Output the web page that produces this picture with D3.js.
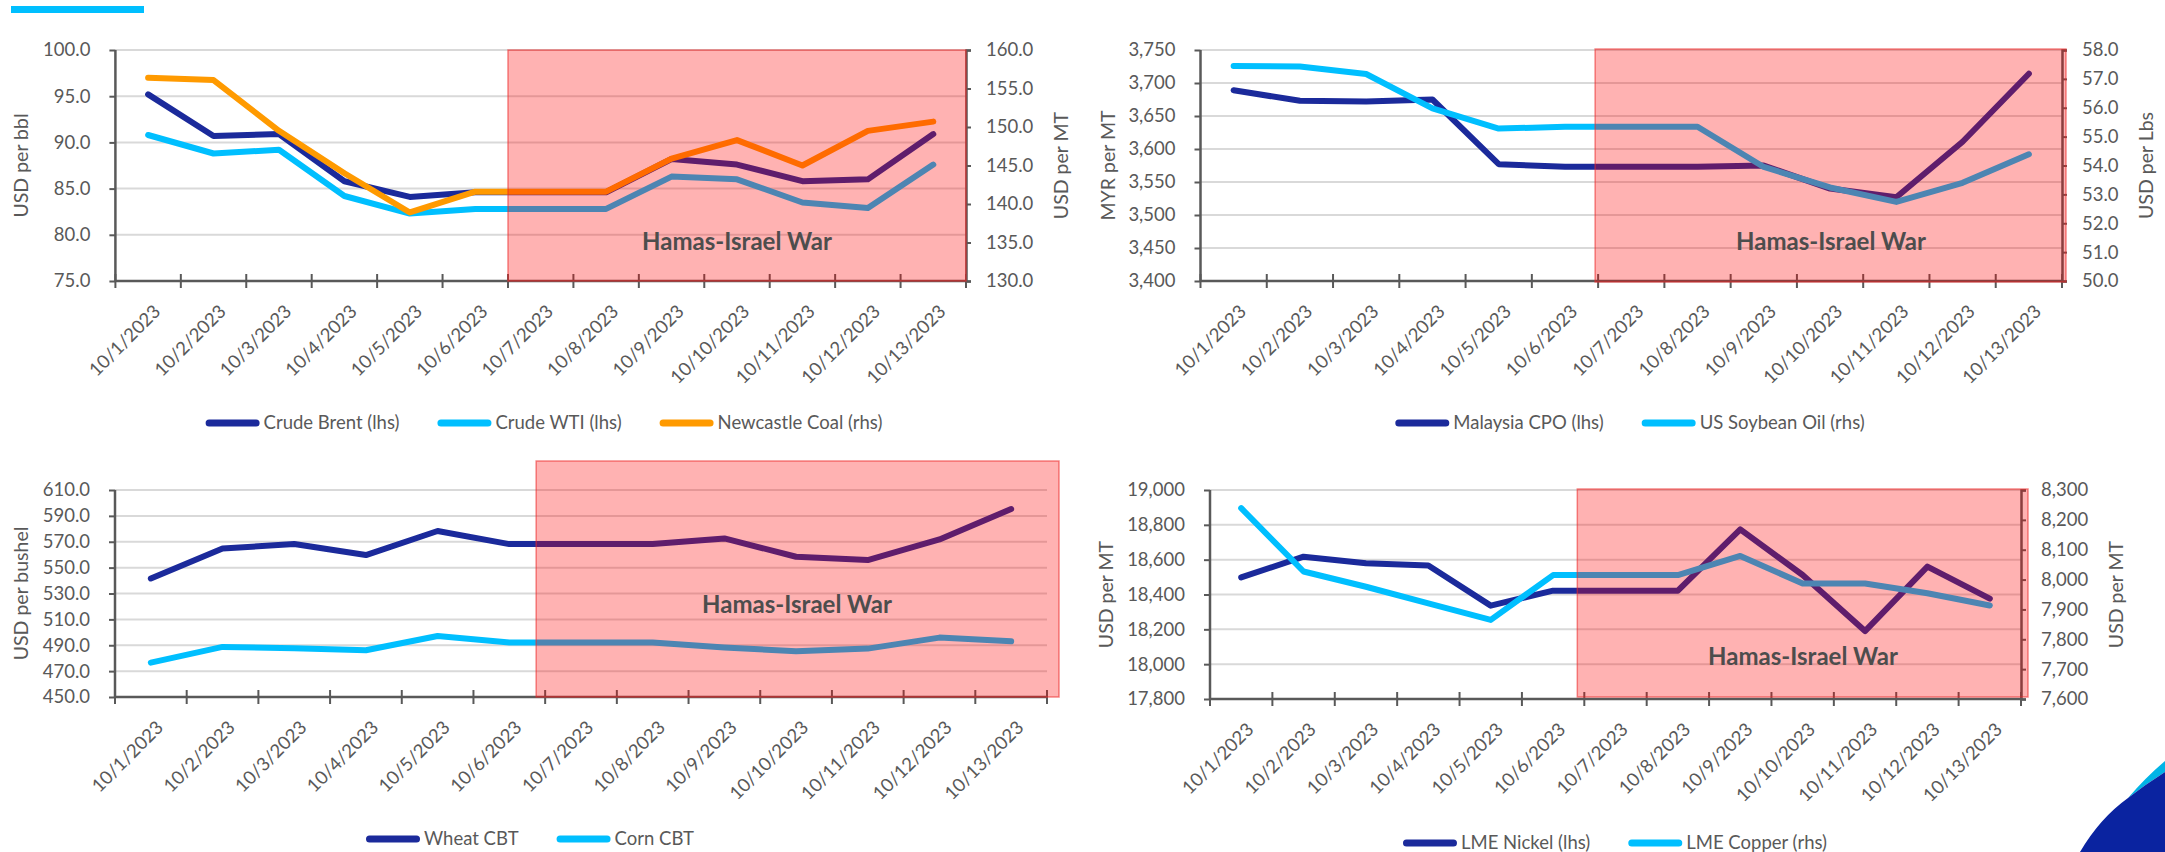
<!DOCTYPE html>
<html>
<head>
<meta charset="utf-8">
<script src="https://cdn.jsdelivr.net/npm/d3@7"></script>
<style>
  html, body { margin: 0; padding: 0; background: #fff; }
  svg { display: block; }
</style>
</head>
<body>
<svg id="board" width="2165" height="852"></svg>
<script>
// Commodity prices around the Hamas-Israel war, 1-13 Oct 2023

const dates = ["10/1/2023", "10/2/2023", "10/3/2023", "10/4/2023", "10/5/2023", "10/6/2023", "10/7/2023",
  "10/8/2023", "10/9/2023", "10/10/2023", "10/11/2023", "10/12/2023", "10/13/2023"];
const warStart = "10/7/2023";
const warLabel = "Hamas-Israel War";

const crudeBrent = [95.2, 90.7, 90.9, 85.8, 84.1, 84.6, 84.6, 84.6, 88.2, 87.6, 85.8, 86.0, 90.9];
const crudeWTI = [90.8, 88.8, 89.2, 84.2, 82.3, 82.8, 82.8, 82.8, 86.3, 86.0, 83.5, 82.9, 87.6];
const newcastleCoal = [156.4, 156.1, 149.5, 144.0, 138.9, 141.6, 141.6, 141.6, 145.9, 148.3, 145.0, 149.5, 150.7];

const malaysiaCPO = [3689, 3673, 3672, 3675, 3577, 3573, 3573, 3573, 3575, 3540, 3527, 3611, 3714];
const usSoybeanOil = [57.45, 57.43, 57.17, 55.98, 55.28, 55.34, 55.34, 55.34, 53.95, 53.24, 52.74, 53.40, 54.39];

const wheatCBT = [541.6, 564.8, 568.2, 559.7, 578.3, 568.2, 568.2, 568.2, 572.6, 558.4, 555.8, 571.8, 595.3];
const cornCBT = [476.6, 488.7, 487.7, 486.1, 497.2, 492.1, 492.1, 492.1, 488.2, 485.4, 487.4, 495.9, 493.1];

const lmeNickel = [18498, 18617, 18579, 18566, 18336, 18422, 18422, 18422, 18774, 18512, 18190, 18560, 18376];
const lmeCopper = [8239, 8027, 7976, 7920, 7865, 8015, 8015, 8015, 8079, 7987, 7987, 7954, 7913];

const NAVY = "#1B2A9B";
const CYAN = "#00BFFF";
const ORANGE = "#FF9A00";
const GREY = "#595959";
const FONT = "Lato, 'Open Sans', sans-serif";

const svg = d3.select("#board");

// header accent bar
svg.append("rect").attr("x", 11).attr("y", 6).attr("width", 133).attr("height", 7).attr("fill", CYAN);

const charts = [
  {
    box: { x0: 115.4, x1: 966, top: 50, bottom: 281 },
    left: { domain: [75, 100], step: 5, fmt: ".1f", title: "USD per bbl", titleX: 21 },
    right: { domain: [130, 160], step: 5, fmt: ".1f", title: "USD per MT", titleX: 1061 },
    series: [
      { name: "Crude Brent (lhs)", values: crudeBrent, color: NAVY, axis: "left" },
      { name: "Crude WTI (lhs)", values: crudeWTI, color: CYAN, axis: "left" },
      { name: "Newcastle Coal (rhs)", values: newcastleCoal, color: ORANGE, axis: "right" }
    ],
    shade: { dx: 0, top: 50, bottom: 281, right: 966 },
    war: { x: 737, y: 250 },
    legend: { cx: 544, y: 423 }
  },
  {
    box: { x0: 1200.5, x1: 2062, top: 50, bottom: 281 },
    left: { domain: [3400, 3750], step: 50, fmt: ",", title: "MYR per MT", titleX: 1108 },
    right: { domain: [50, 58], step: 1, fmt: ".1f", title: "USD per Lbs", titleX: 2146 },
    series: [
      { name: "Malaysia CPO (lhs)", values: malaysiaCPO, color: NAVY, axis: "left" },
      { name: "US Soybean Oil (rhs)", values: usSoybeanOil, color: CYAN, axis: "right" }
    ],
    shade: { dx: -3, top: 49, bottom: 282, right: 2066 },
    war: { x: 1831, y: 250 },
    legend: { cx: 1630, y: 423 }
  },
  {
    box: { x0: 115, x1: 1047, top: 490, bottom: 697 },
    left: { domain: [450, 610], step: 20, fmt: ".1f", title: "USD per bushel", titleX: 21 },
    right: null,
    series: [
      { name: "Wheat CBT", values: wheatCBT, color: NAVY, axis: "left" },
      { name: "Corn CBT", values: cornCBT, color: CYAN, axis: "left" }
    ],
    shade: { dx: -9, top: 461, bottom: 697, right: 1059 },
    war: { x: 797, y: 613 },
    legend: { cx: 530, y: 839 }
  },
  {
    box: { x0: 1210, x1: 2021, top: 490, bottom: 699 },
    left: { domain: [17800, 19000], step: 200, fmt: ",", title: "USD per MT", titleX: 1106 },
    right: { domain: [7600, 8300], step: 100, fmt: ",", title: "USD per MT", titleX: 2116 },
    series: [
      { name: "LME Nickel (lhs)", values: lmeNickel, color: NAVY, axis: "left" },
      { name: "LME Copper (rhs)", values: lmeCopper, color: CYAN, axis: "right" }
    ],
    shade: { dx: -7, top: 489, bottom: 697, right: 2028 },
    war: { x: 1803, y: 665 },
    legend: { cx: 1615, y: 843 }
  }
];

function drawChart(c) {
  const { x0, x1, top, bottom } = c.box;
  const g = svg.append("g");

  const x = d3.scaleBand().domain(dates).range([x0, x1]).padding(0);
  const yL = d3.scaleLinear().domain(c.left.domain).range([bottom, top]);
  const yR = c.right ? d3.scaleLinear().domain(c.right.domain).range([bottom, top]) : null;
  const ticksL = d3.range(c.left.domain[0], c.left.domain[1] + c.left.step / 2, c.left.step);

  // gridlines
  g.append("g").selectAll("line").data(ticksL.slice(1)).join("line")
    .attr("x1", x0).attr("x2", x1)
    .attr("y1", d => yL(d)).attr("y2", d => yL(d))
    .attr("stroke", "#D9D9D9").attr("stroke-width", 2);

  // left axis
  const axL = g.append("g").attr("transform", `translate(${x0},0)`)
    .call(d3.axisLeft(yL).tickValues(ticksL).tickFormat(d3.format(c.left.fmt)).tickSize(6).tickPadding(19));
  // right axis
  if (yR) {
    const ticksR = d3.range(c.right.domain[0], c.right.domain[1] + c.right.step / 2, c.right.step);
    g.append("g").attr("transform", `translate(${x1},0)`)
      .call(d3.axisRight(yR).tickValues(ticksR).tickFormat(d3.format(c.right.fmt)).tickSize(5).tickPadding(15));
  }

  // category axis: ticks on band boundaries, crossing the baseline
  const bounds = dates.map(d => x(d)).concat([x1]);
  const axB = g.append("g");
  axB.append("line").attr("x1", x0).attr("x2", x1).attr("y1", bottom).attr("y2", bottom)
    .attr("stroke", GREY).attr("stroke-width", 2.5);
  axB.selectAll("line.tk").data(bounds).join("line").attr("class", "tk")
    .attr("x1", d => d).attr("x2", d => d).attr("y1", bottom - 7).attr("y2", bottom + 7)
    .attr("stroke", GREY).attr("stroke-width", 2);
  axB.selectAll("text").data(dates).join("text")
    .attr("transform", d => `translate(${x(d) + x.bandwidth() / 2 + 9},${bottom + 27}) rotate(-45)`)
    .attr("text-anchor", "end").attr("dy", "0.35em")
    .attr("font-family", FONT).attr("font-size", 18.5).attr("fill", GREY)
    .text(d => d);

  g.selectAll(".domain").attr("stroke", GREY).attr("stroke-width", 2.5);
  g.selectAll(".tick line").attr("stroke", GREY).attr("stroke-width", 2);
  g.selectAll(".tick text").attr("font-family", FONT).attr("font-size", 18.5).attr("fill", GREY);
  axL.select(".domain").attr("d", `M-0,${bottom}V${top}`);

  // axis titles
  const midY = (top + bottom) / 2;
  [c.left, c.right].filter(Boolean).forEach(a => {
    g.append("text").attr("transform", `translate(${a.titleX},${midY}) rotate(-90)`)
      .attr("text-anchor", "middle").attr("dy", "0.35em")
      .attr("font-family", FONT).attr("font-size", 19.5).attr("fill", GREY)
      .text(a.title);
  });

  // series
  c.series.forEach(s => {
    const y = s.axis === "left" ? yL : yR;
    const line = d3.line().x((v, i) => x(dates[i]) + x.bandwidth() / 2).y(v => y(v));
    g.append("path").datum(s.values).attr("d", line)
      .attr("fill", "none").attr("stroke", s.color).attr("stroke-width", 6)
      .attr("stroke-linejoin", "round").attr("stroke-linecap", "round");
  });

  // war period overlay sits on top of the lines
  const sx = x(warStart) + c.shade.dx;
  g.append("rect")
    .attr("x", sx).attr("y", c.shade.top)
    .attr("width", c.shade.right - sx).attr("height", c.shade.bottom - c.shade.top)
    .attr("fill", "rgba(255,0,0,0.3)").attr("stroke", "rgba(235,40,40,0.55)").attr("stroke-width", 1.5);
  g.append("text").attr("x", c.war.x).attr("y", c.war.y).attr("text-anchor", "middle")
    .attr("font-family", FONT).attr("font-weight", 700).attr("font-size", 24).attr("fill", "#4D4D4D")
    .text(warLabel);

  // legend, centred
  const lg = g.append("g");
  const items = c.series.map(s => {
    const t = lg.append("text").attr("font-family", FONT).attr("font-size", 18.5).attr("fill", GREY)
      .attr("dy", "0.35em").text(s.name);
    return { s, t, w: t.node().getComputedTextLength() };
  });
  const lineLen = 54, gapTxt = 4, gapItem = 38;
  const total = d3.sum(items, it => lineLen + gapTxt + it.w) + gapItem * (items.length - 1);
  let cx = c.legend.cx - total / 2;
  items.forEach(it => {
    lg.append("line").attr("x1", cx + 3.5).attr("x2", cx + lineLen - 3.5)
      .attr("y1", c.legend.y).attr("y2", c.legend.y)
      .attr("stroke", it.s.color).attr("stroke-width", 7).attr("stroke-linecap", "round");
    it.t.attr("x", cx + lineLen + gapTxt).attr("y", c.legend.y);
    cx += lineLen + gapTxt + it.w + gapItem;
  });
}

charts.forEach(drawChart);

// corner swoosh
svg.append("path").attr("d", "M2128,798 Q2146,777 2165,761 L2165,772 Q2146,784 2128,798 Z").attr("fill", "#00B4E6");
svg.append("path").attr("d", "M2080,852 Q2100,818 2128,798 Q2146,784 2165,772 L2165,852 Z").attr("fill", "#0A23A0");
</script>
</body>
</html>
